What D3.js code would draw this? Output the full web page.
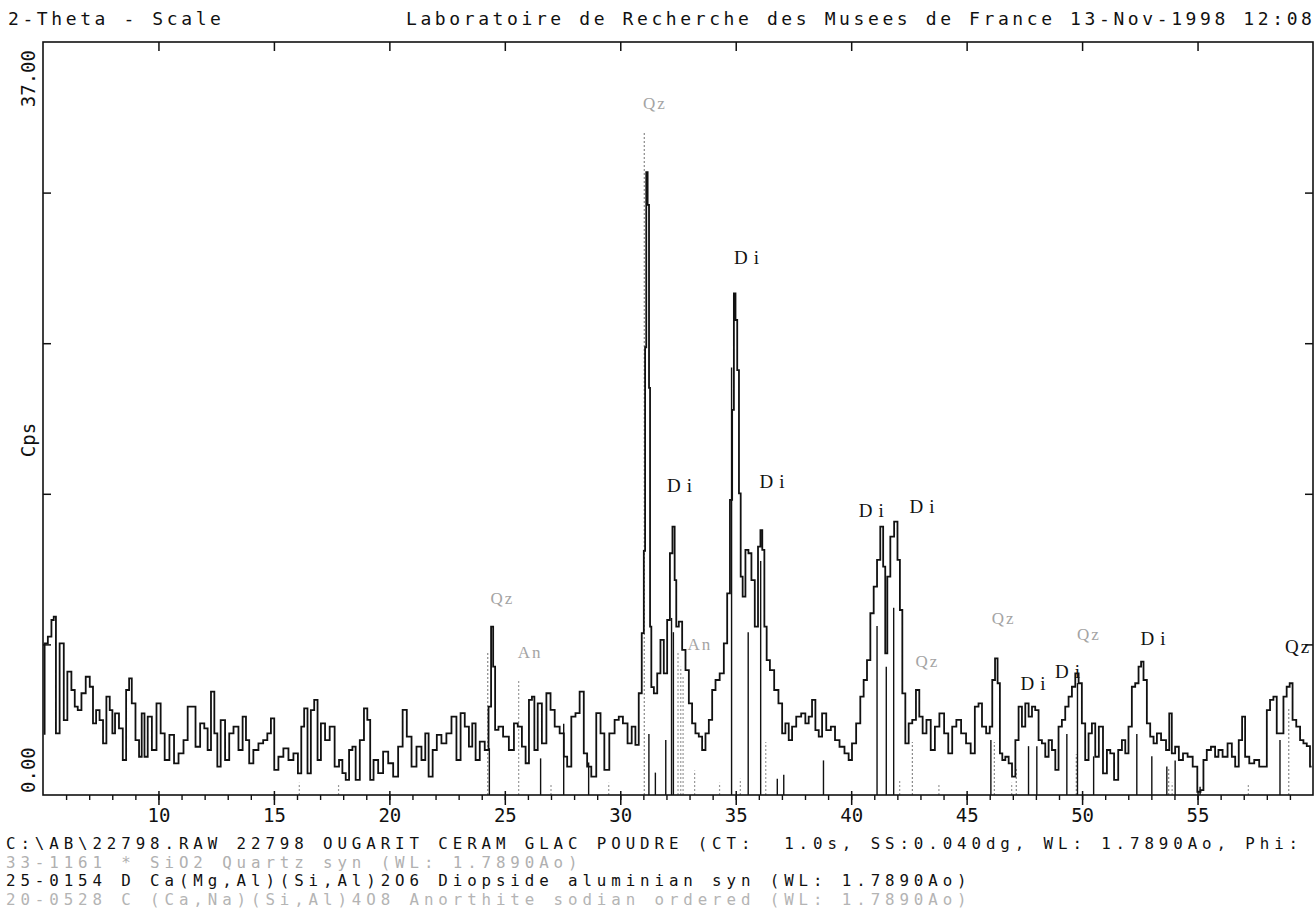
<!DOCTYPE html>
<html>
<head>
<meta charset="utf-8">
<script src="https://cdn.jsdelivr.net/npm/d3@7"></script>
<style>
  body { margin: 0; background: #fff; }
  svg text { font-family: "DejaVu Sans Mono", monospace; }
</style>
</head>
<body>
<div class="chart"></div>
<script>
// diffractogram: [2-theta, cps]
const pattern = [
  [5.03,3.0],[5.11,7.45],[5.31,7.78],[5.42,8.6],[5.51,8.76],[5.61,3.03],[5.83,7.45],[5.97,3.68],
  [6.14,6.06],[6.32,5.16],[6.43,4.34],[6.58,4.17],[6.75,5.0],[6.95,5.81],[7.10,5.32],[7.23,3.52],
  [7.37,4.17],[7.53,3.68],[7.67,2.54],[7.82,4.83],[7.96,4.17],[8.05,3.03],[8.19,4.01],[8.39,3.27],
  [8.52,1.72],[8.68,5.16],[8.78,5.73],[8.91,4.5],[9.10,2.7],[9.22,1.88],[9.33,4.01],[9.46,1.88],
  [9.61,3.85],[9.82,2.21],[10.01,4.5],[10.18,3.03],[10.36,1.72],[10.59,2.95],[10.76,1.55],[10.98,2.05],
  [11.19,2.7],[11.34,4.34],[11.51,4.34],[11.70,2.37],[11.91,3.52],[12.06,3.27],[12.20,2.21],[12.35,5.08],
  [12.49,3.03],[12.61,1.39],[12.78,3.68],[12.99,1.72],[13.14,3.03],[13.36,3.36],[13.57,2.21],[13.72,3.85],
  [13.86,2.7],[14.00,1.55],[14.22,2.21],[14.44,2.54],[14.63,2.7],[14.80,3.03],[14.94,3.77],[15.09,1.23],
  [15.30,1.88],[15.52,2.29],[15.74,1.72],[15.95,2.05],[16.13,1.06],[16.24,3.36],[16.38,4.26],[16.53,1.06],
  [16.67,4.17],[16.82,4.67],[16.96,1.72],[17.11,3.52],[17.32,2.7],[17.51,3.36],[17.75,1.39],[17.89,1.72],
  [18.04,1.07],[18.18,0.74],[18.33,2.21],[18.47,2.38],[18.61,0.74],[18.83,2.7],[18.97,4.26],[19.12,3.69],
  [19.22,0.74],[19.41,1.72],[19.62,1.07],[19.84,2.13],[20.06,1.56],[20.27,0.9],[20.49,2.38],[20.66,4.18],
  [20.85,2.87],[21.07,1.39],[21.28,2.38],[21.50,1.72],[21.61,3.03],[21.79,0.9],[21.96,2.21],[22.15,2.95],
  [22.36,2.54],[22.58,3.03],[22.80,3.85],[23.01,1.72],[23.16,4.02],[23.37,3.36],[23.52,2.38],[23.66,3.52],
  [23.81,1.72],[24.02,2.62],[24.24,2.21],[24.35,4.34],[24.46,8.27],[24.53,6.31],[24.63,3.2],[24.82,3.36],
  [25.03,2.87],[25.32,2.21],[25.47,3.52],[25.65,3.36],[25.83,2.38],[25.97,1.56],[26.12,4.67],[26.23,4.83],
  [26.33,2.21],[26.52,4.5],[26.69,2.54],[26.91,5.0],[27.05,4.18],[27.27,3.36],[27.48,3.03],[27.63,1.89],
  [27.77,1.39],[27.99,3.85],[28.13,4.02],[28.35,5.08],[28.49,2.05],[28.64,1.39],[28.85,0.9],[29.07,4.02],
  [29.22,3.03],[29.40,1.23],[29.65,3.03],[29.86,3.69],[30.01,3.85],[30.22,3.52],[30.41,2.54],[30.58,3.36],
  [30.73,2.46],[30.87,5.0],[30.99,7.95],[31.05,12.0],[31.10,22.0],[31.15,30.6],[31.22,29.0],[31.27,20.0],
  [31.31,8.27],[31.38,5.3],[31.53,4.99],[31.67,5.98],[31.81,7.62],[31.96,5.98],[32.10,8.6],[32.20,11.88],
  [32.32,13.19],[32.39,10.56],[32.46,8.27],[32.61,8.52],[32.75,7.13],[32.90,6.14],[33.04,4.5],[33.18,3.52],
  [33.33,3.03],[33.47,2.87],[33.62,2.21],[33.76,3.03],[33.91,3.69],[34.05,5.16],[34.20,5.65],[34.41,5.98],
  [34.56,7.45],[34.70,9.91],[34.80,14.5],[34.89,18.92],[34.95,24.65],[35.03,23.34],[35.10,20.88],[35.18,14.82],
  [35.25,10.73],[35.35,9.75],[35.49,12.04],[35.61,11.88],[35.75,10.56],[35.90,8.27],[36.03,12.2],[36.11,13.02],
  [36.19,12.04],[36.29,8.27],[36.39,6.63],[36.57,6.14],[36.76,5.16],[36.94,4.5],[37.08,3.03],[37.22,3.52],
  [37.37,2.7],[37.51,3.36],[37.73,3.85],[37.94,4.01],[38.09,3.52],[38.23,3.85],[38.38,4.67],[38.52,3.19],
  [38.67,2.87],[38.81,4.01],[39.03,3.19],[39.21,3.36],[39.39,2.7],[39.60,2.37],[39.82,2.05],[39.96,1.72],
  [40.11,2.54],[40.32,3.52],[40.47,4.83],[40.61,5.65],[40.76,6.63],[40.90,8.93],[41.05,10.24],[41.19,11.55],
  [41.33,13.19],[41.44,11.22],[41.51,6.96],[41.62,10.73],[41.77,12.7],[41.95,13.43],[42.06,11.55],[42.16,9.09],
  [42.27,4.99],[42.42,2.54],[42.56,3.52],[42.73,3.69],[42.88,5.16],[43.02,3.85],[43.17,3.03],[43.35,3.69],
  [43.54,2.21],[43.71,3.36],[43.93,4.01],[44.12,3.03],[44.29,2.05],[44.46,3.36],[44.65,3.69],[44.87,3.03],
  [45.08,2.54],[45.27,2.05],[45.44,4.34],[45.59,4.5],[45.74,3.36],[45.95,3.03],[46.05,3.36],[46.17,5.65],
  [46.29,6.71],[46.39,5.49],[46.49,2.05],[46.60,1.72],[46.75,1.88],[46.89,1.55],[47.04,0.9],[47.18,2.7],
  [47.32,4.34],[47.47,3.36],[47.61,4.5],[47.76,3.85],[47.90,4.34],[48.04,4.17],[48.19,2.7],[48.33,2.54],
  [48.48,1.88],[48.62,2.7],[48.77,2.21],[48.91,1.23],[49.05,3.36],[49.20,3.69],[49.34,4.34],[49.49,4.83],
  [49.63,5.32],[49.78,5.98],[49.92,5.49],[50.06,3.52],[50.21,1.72],[50.35,3.03],[50.50,3.52],[50.64,1.88],
  [50.81,3.36],[51.00,1.06],[51.15,2.21],[51.29,2.05],[51.48,0.74],[51.65,2.21],[51.80,2.7],[51.94,2.05],
  [52.08,3.36],[52.23,5.32],[52.37,5.49],[52.52,6.31],[52.59,6.55],[52.73,5.65],[52.88,3.52],[53.02,2.87],
  [53.17,2.54],[53.31,3.03],[53.53,2.7],[53.74,2.21],[53.81,4.01],[53.96,2.05],[54.10,2.37],[54.28,1.72],
  [54.46,2.05],[54.68,1.88],[54.90,1.39],[55.08,0.16],[55.18,0.24],[55.33,1.72],[55.47,2.21],[55.69,2.37],
  [55.83,1.88],[55.98,2.21],[56.19,1.88],[56.41,2.54],[56.56,1.88],[56.70,1.39],[56.87,2.7],[56.99,3.85],
  [57.13,1.88],[57.35,1.55],[57.56,1.72],[57.78,1.39],[57.93,1.39],[58.07,4.17],[58.21,4.67],[58.36,4.83],
  [58.50,3.03],[58.65,3.03],[58.79,4.83],[58.93,5.32],[59.05,5.49],[59.18,3.69],[59.37,3.36],[59.51,2.7],
  [59.66,2.54],[59.80,2.4],[59.94,1.39]
];

// reference card sticks: [2-theta, height in cps]
const diopsideSticks = [
  [24.33,2.3],[26.55,1.8],[27.55,3.5],[28.63,1.6],[31.24,3.0],[31.52,1.1],[31.97,2.7],[32.22,8.7],
  [32.30,8.0],[34.82,21.0],[35.54,8.0],[36.08,11.5],[36.8,0.8],[37.08,1.0],[38.8,1.7],[41.12,8.3],
  [41.52,6.3],[41.84,9.2],[46.05,2.7],[47.68,2.4],[48.04,2.4],[49.34,3.0],[49.8,5.5],[50.5,1.9],
  [52.37,3.0],[53.02,1.9],[53.67,1.4],[54.03,1.7],[55.11,0.4],[58.57,2.7]
];
const quartzSticks = [
  [24.26,7.0],[31.04,32.6],[42.65,2.6],[46.2,2.6],[47.15,1.3],[49.75,2.0],[53.75,1.3],[58.95,4.3]
];
const anorthiteSticks = [
  [16.1,0.6],[17.8,0.5],[25.6,5.6],[27.0,0.5],[29.5,0.6],[32.5,7.0],[32.62,6.3],[32.72,5.8],
  [33.22,1.2],[34.3,0.6],[35.2,0.8],[36.3,2.6],[42.1,0.7],[43.8,0.5],[46.95,0.6],[53.9,0.6],[57.2,0.5]
];

// peak labels: text, 2-theta, cps, dark?
const peakLabels = [
  ["Qz",31.5,34.0,false],["Di",35.6,26.4,true],["Di",32.7,15.2,true],["Di",36.7,15.4,true],
  ["Di",41.0,14.0,true],["Di",43.2,14.2,true],["Qz",24.9,9.7,false],["An",26.1,7.0,false],
  ["An",33.45,7.4,false],["Qz",43.3,6.6,false],["Qz",46.6,8.7,false],["Qz",50.3,7.9,false],
  ["Di",48.0,5.5,true],["Di",49.5,6.1,true],["Di",53.2,7.7,true],["Qz",59.35,7.3,true]
];

const majorTicks = [10,15,20,25,30,35,40,45,50,55];
const minorTicks = d3.range(6,60);
const yTicks = [7.4,14.8,22.2,29.6];

const headerLeft = "2-Theta - Scale";
const headerRight = "Laboratoire de Recherche des Musees de France 13-Nov-1998 12:08";
const footerLines = [
  ["C:\\AB\\22798.RAW 22798 OUGARIT CERAM GLAC POUDRE (CT:  1.0s, SS:0.040dg, WL: 1.7890Ao, Phi:", "#111"],
  ["33-1161 * SiO2 Quartz syn (WL: 1.7890Ao)", "#b0b0b0"],
  ["25-0154 D Ca(Mg,Al)(Si,Al)2O6 Diopside aluminian syn (WL: 1.7890Ao)", "#111"],
  ["20-0528 C (Ca,Na)(Si,Al)4O8 Anorthite sodian ordered (WL: 1.7890Ao)", "#b4b4b4"]
];

const width = 1315, height = 910;
const plot = {left: 43, right: 1313, top: 42, bottom: 795};

const svg = d3.select('.chart')
    .append('svg')
    .attr('width', width)
    .attr('height', height);

const xScale = d3.scaleLinear().domain([5, 60]).range([plot.left, plot.right]);
const yScale = d3.scaleLinear().domain([0, 37]).range([plot.bottom, plot.top]);

// header
svg.append('text').attr('x', 8).attr('y', 25).attr('font-size', 18)
    .attr('letter-spacing', 3.6).attr('fill', '#111').text(headerLeft);
svg.append('text').attr('x', 406).attr('y', 25).attr('font-size', 18)
    .attr('letter-spacing', 3.6).attr('fill', '#111').text(headerRight);

// reference sticks
function sticks(data, color, dash, w) {
    svg.append('g').selectAll('line')
        .data(data)
        .join('line')
        .attr('x1', d => xScale(d[0])).attr('x2', d => xScale(d[0]))
        .attr('y1', yScale(0)).attr('y2', d => yScale(d[1]))
        .attr('stroke', color)
        .attr('stroke-width', w)
        .attr('stroke-dasharray', dash);
}
sticks(anorthiteSticks, '#9a9a9a', '2,2', 1.2);
sticks(quartzSticks, '#8a8a8a', '2,2', 1.2);
sticks(diopsideSticks, '#111', null, 1.4);

// pattern, drawn as steps like the plotter output
const line = d3.line()
    .x(d => xScale(d[0]))
    .y(d => yScale(d[1]))
    .curve(d3.curveStep);

svg.append('path')
    .datum(pattern)
    .attr('fill', 'none')
    .attr('stroke', '#111')
    .attr('stroke-width', 1.8)
    .attr('d', line);

// frame
svg.append('rect')
    .attr('x', plot.left).attr('y', plot.top)
    .attr('width', plot.right - plot.left).attr('height', plot.bottom - plot.top)
    .attr('fill', 'none').attr('stroke', '#111').attr('stroke-width', 1.6);

// bottom axis: minor + major ticks, labels
svg.append('g')
    .attr('transform', `translate(0,${plot.bottom})`)
    .call(d3.axisBottom(xScale).tickValues(minorTicks).tickSize(5).tickFormat(''))
    .call(g => g.select('.domain').remove())
    .call(g => g.selectAll('.tick line').attr('stroke', '#111').attr('stroke-width', 1.4));

svg.append('g')
    .attr('transform', `translate(0,${plot.bottom})`)
    .call(d3.axisBottom(xScale).tickValues(majorTicks).tickSize(10).tickPadding(4))
    .call(g => g.select('.domain').remove())
    .call(g => g.selectAll('.tick line').attr('y1', -4).attr('stroke', '#111').attr('stroke-width', 1.5))
    .call(g => g.selectAll('.tick text')
        .attr('font-size', 19).attr('fill', '#111'));

// top axis ticks pointing in
svg.append('g')
    .attr('transform', `translate(0,${plot.top})`)
    .call(d3.axisBottom(xScale).tickValues(majorTicks).tickSize(9).tickFormat(''))
    .call(g => g.select('.domain').remove())
    .call(g => g.selectAll('.tick line').attr('stroke', '#111').attr('stroke-width', 1.5));

// left / right ticks pointing in
svg.append('g')
    .attr('transform', `translate(${plot.left},0)`)
    .call(d3.axisRight(yScale).tickValues(yTicks).tickSize(8).tickFormat(''))
    .call(g => g.select('.domain').remove())
    .call(g => g.selectAll('.tick line').attr('stroke', '#111').attr('stroke-width', 1.5));
svg.append('g')
    .attr('transform', `translate(${plot.right},0)`)
    .call(d3.axisLeft(yScale).tickValues(yTicks).tickSize(8).tickFormat(''))
    .call(g => g.select('.domain').remove())
    .call(g => g.selectAll('.tick line').attr('stroke', '#111').attr('stroke-width', 1.5));

// y labels, rotated
svg.append('text').attr('transform', `translate(35,${plot.top + 8}) rotate(-90)`)
    .attr('text-anchor', 'end').attr('font-size', 19).attr('fill', '#111').text('37.00');
svg.append('text').attr('transform', `translate(35,440) rotate(-90)`)
    .attr('text-anchor', 'middle').attr('font-size', 19).attr('fill', '#111').text('Cps');
svg.append('text').attr('transform', `translate(35,${plot.bottom - 2}) rotate(-90)`)
    .attr('text-anchor', 'start').attr('font-size', 19).attr('fill', '#111').text('0.00');

// peak labels
svg.append('g').selectAll('text')
    .data(peakLabels)
    .join('text')
    .attr('x', d => xScale(d[1]))
    .attr('y', d => yScale(d[2]))
    .attr('dy', '0.35em')
    .attr('text-anchor', 'middle')
    .style('font-family', '"Liberation Serif", "DejaVu Serif", serif')
    .attr('font-size', d => d[3] ? 19 : 17)
    .attr('letter-spacing', d => d[0] === 'Di' ? 6 : 2)
    .attr('fill', d => d[3] ? '#111' : '#a4a4a4')
    .text(d => d[0]);

// footer
svg.append('g').selectAll('text')
    .data(footerLines)
    .join('text')
    .attr('x', 6)
    .attr('y', (d, i) => 849 + i * 18.5)
    .attr('font-size', 15.8)
    .attr('letter-spacing', 4.9)
    .style('white-space', 'pre')
    .attr('fill', d => d[1])
    .text(d => d[0]);
</script>
</body>
</html>
